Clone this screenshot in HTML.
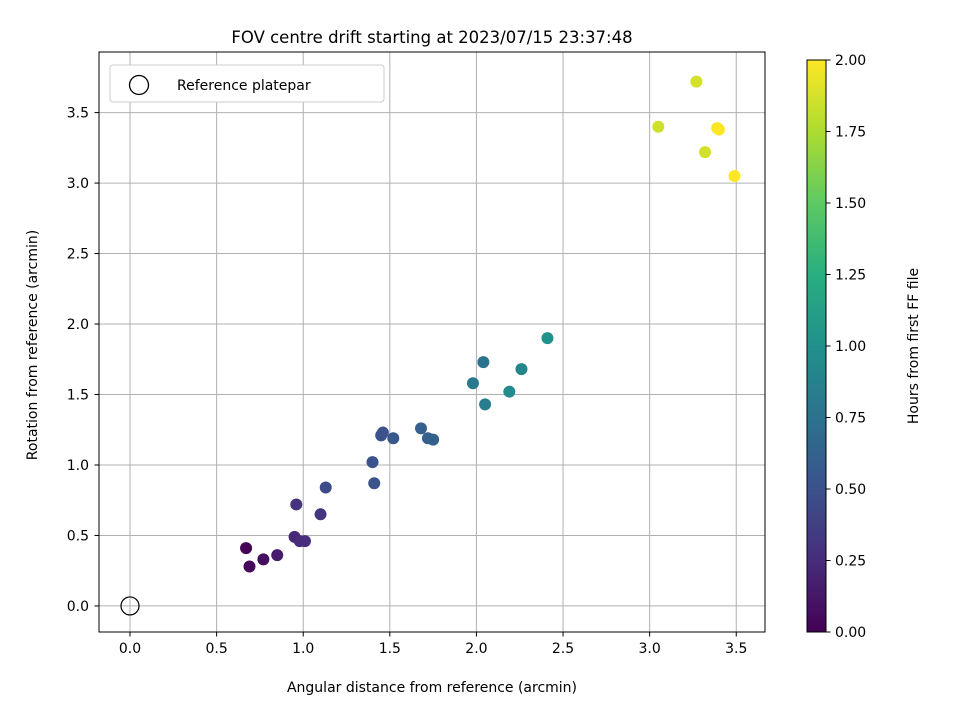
<!DOCTYPE html>
<html><head><meta charset="utf-8"><style>
body{margin:0;background:#fff}
svg text{font-family:"DejaVu Sans","Liberation Sans",sans-serif;font-size:14px}
svg text.title{font-size:16.5px}
</style></head><body>
<svg id="chart" width="960" height="720" xmlns="http://www.w3.org/2000/svg">
<defs><linearGradient id="vir" x1="0" y1="1" x2="0" y2="0">
<stop offset="0" stop-color="#440154"/><stop offset="0.125" stop-color="#472d7b"/><stop offset="0.25" stop-color="#3b528b"/><stop offset="0.375" stop-color="#2c728e"/><stop offset="0.5" stop-color="#21918c"/><stop offset="0.625" stop-color="#28ae80"/><stop offset="0.75" stop-color="#5ec962"/><stop offset="0.875" stop-color="#addc30"/><stop offset="1" stop-color="#fde725"/></linearGradient></defs>
<text class="title" x="432" y="43" text-anchor="middle">FOV centre drift starting at 2023/07/15 23:37:48</text>
<g id="grid"></g><g id="ticks"></g><g id="pts"></g>
<rect x="99" y="52" width="666" height="580" fill="none" stroke="#000" stroke-width="1"/>
<g>
<rect x="110" y="65" width="274" height="37" fill="#fff" stroke="#ccc" rx="3"/>
<circle cx="139" cy="85" r="9.5" fill="none" stroke="#000" stroke-width="1.3"/>
<text x="177" y="90">Reference platepar</text></g>
<text x="432" y="692" text-anchor="middle">Angular distance from reference (arcmin)</text>
<text transform="translate(37,345) rotate(-90)" text-anchor="middle">Rotation from reference (arcmin)</text>
<rect x="807" y="60" width="19" height="572" fill="url(#vir)" stroke="#000" stroke-width="1"/>
<g id="cbt"></g>
<text transform="translate(918,346) rotate(-90)" text-anchor="middle">Hours from first FF file</text>
</svg>
<script>
const xs=[0.67,0.69,0.77,0.85,0.95,0.96,0.98,1.01,1.10,1.13,1.40,1.41,1.45,1.46,1.52,1.68,1.72,1.75,1.98,2.04,2.05,2.19,2.26,2.41,3.05,3.27,3.32,3.39,3.40,3.49];
const ys=[0.41,0.28,0.33,0.36,0.49,0.72,0.46,0.46,0.65,0.84,1.02,0.87,1.21,1.23,1.19,1.26,1.19,1.18,1.58,1.73,1.43,1.52,1.68,1.90,3.40,3.72,3.22,3.39,3.38,3.05];
const hours=[0.02,0.05,0.08,0.15,0.22,0.3,0.25,0.25,0.3,0.45,0.5,0.5,0.5,0.5,0.55,0.6,0.6,0.62,0.8,0.75,0.85,0.95,0.9,1.0,1.85,1.87,1.87,1.97,2.0,2.0];
const xTicks=[0,0.5,1,1.5,2,2.5,3,3.5];
const yTicks=[0,0.5,1,1.5,2,2.5,3,3.5];
const cTicks=[0,0.25,0.5,0.75,1,1.25,1.5,1.75,2];
const NS='http://www.w3.org/2000/svg';
const X=v=>99+(v+0.179)/(3.845)*666, Y=v=>632-(v+0.185)/(4.115)*580, C=v=>632-v/2*572;
const stops=["#440154","#472d7b","#3b528b","#2c728e","#21918c","#28ae80","#5ec962","#addc30","#fde725"];
function col(t){t=Math.max(0,Math.min(1,t))*8;const i=Math.min(7,Math.floor(t)),f=t-i;
const a=stops[i],b=stops[i+1];const p=(s,k)=>parseInt(s.substr(1+2*k,2),16);
return 'rgb('+[0,1,2].map(k=>Math.round(p(a,k)+(p(b,k)-p(a,k))*f)).join(',')+')';}
function mk(tag,at,par){const e=document.createElementNS(NS,tag);for(const k in at)e.setAttribute(k,at[k]);document.getElementById(par).appendChild(e);return e;}
xTicks.forEach(v=>{const x=X(v);
const g=mk('line',{x1:x,x2:x,y1:52,y2:632,stroke:'#b0b0b0','stroke-width':1},'grid');


const t=mk('line',{x1:x,x2:x,y1:632,y2:636.5,stroke:'#000'},'ticks');


const l=mk('text',{x:x,y:653,'text-anchor':'middle'},'ticks');l.textContent=v.toFixed(1);

});
yTicks.forEach(v=>{const y=Y(v);
const g=mk('line',{x1:99,x2:765,y1:y,y2:y,stroke:'#b0b0b0','stroke-width':1},'grid');


const t=mk('line',{x1:94.5,x2:99,y1:y,y2:y,stroke:'#000'},'ticks');


const l=mk('text',{x:89,y:y+5,'text-anchor':'end'},'ticks');l.textContent=v.toFixed(1);

});
cTicks.forEach(v=>{const y=C(v);
const t=mk('line',{x1:826,x2:830.5,y1:y,y2:y,stroke:'#000'},'cbt');


const l=mk('text',{x:835,y:y+5},'cbt');l.textContent=v.toFixed(2);

});
const r=mk('circle',{cx:X(0),cy:Y(0),r:9,fill:'none',stroke:'#000','stroke-width':1.2},'pts');


xs.forEach((v,i)=>{const c=mk('circle',{cx:X(v),cy:Y(ys[i]),r:6,fill:col(hours[i]/2)},'pts');

});
</script>
</body></html>
